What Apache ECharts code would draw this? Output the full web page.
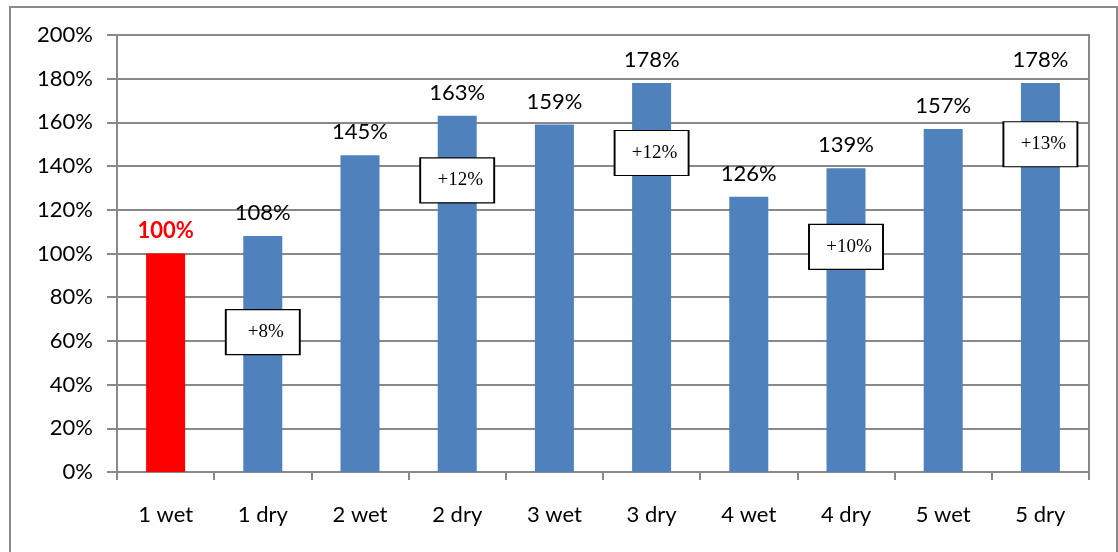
<!DOCTYPE html>
<html>
<head>
<meta charset="utf-8">
<script src="https://cdn.jsdelivr.net/npm/echarts@6/dist/echarts.min.js"></script>
<style>
  html, body { margin: 0; padding: 0; background: #fff; }
  #chart { width: 1118px; height: 552px; }
</style>
</head>
<body>
<div id="chart"></div>
<script>
// Categories and relative values (percent of the "1 wet" baseline)
const categories = ['1 wet', '1 dry', '2 wet', '2 dry', '3 wet', '3 dry', '4 wet', '4 dry', '5 wet', '5 dry'];
const values = [100, 108, 145, 163, 159, 178, 126, 139, 157, 178];

// Wet -> dry gain callouts: which category, where the box sits (in %), and its text
const gainCategories = ['1 dry', '2 dry', '3 dry', '4 dry', '5 dry'];
const gainAnchors = [64, 133.5, 146, 103, 150];
const gainLabels = ['+8%', '+12%', '+12%', '+10%', '+13%'];

const yTicks = [0, 20, 40, 60, 80, 100, 120, 140, 160, 180, 200];

const GRID_GRAY = '#898989';
const BAR_BLUE = '#4F81BD';
const BASE_RED = '#FF0000';
const FONT = 'Lato, "Open Sans", sans-serif';
const FONT_SIZE = 22;

const barData = values.map((v, i) => {
  const isBase = i === 0;
  return {
    value: v,
    itemStyle: { color: isBase ? BASE_RED : BAR_BLUE },
    label: isBase
      ? { color: BASE_RED, fontWeight: 'bold' }
      : { color: '#000', fontWeight: 'normal' }
  };
});

const gainData = gainCategories.map((c, i) => ({
  value: [c, gainAnchors[i]],
  label: { formatter: gainLabels[i] }
}));

const chart = echarts.init(document.getElementById('chart'), null, { renderer: 'canvas' });

chart.setOption({
  animation: false,
  backgroundColor: '#fff',
  textStyle: { fontFamily: FONT },
  graphic: [{
    type: 'rect',
    shape: { x: 10, y: 7, width: 1107, height: 560 },
    style: { fill: 'none', stroke: '#8a8a8a', lineWidth: 2 },
    silent: true,
    z: -10
  }],
  grid: {
    left: 117, right: 29, top: 35, bottom: 80,
    show: true, borderColor: GRID_GRAY, borderWidth: 2, backgroundColor: 'transparent'
  },
  xAxis: {
    type: 'category',
    data: categories,
    boundaryGap: true,
    axisLine: { show: true, lineStyle: { color: GRID_GRAY, width: 2 } },
    axisTick: { show: true, length: 8, alignWithLabel: false, lineStyle: { color: GRID_GRAY, width: 2 } },
    axisLabel: { color: '#000', fontSize: FONT_SIZE, fontFamily: FONT, margin: 32 },
    splitLine: { show: false }
  },
  yAxis: {
    type: 'value',
    min: yTicks[0],
    max: yTicks[yTicks.length - 1],
    interval: yTicks[1] - yTicks[0],
    axisLine: { show: true, lineStyle: { color: GRID_GRAY, width: 2 } },
    axisTick: { show: true, length: 10, lineStyle: { color: GRID_GRAY, width: 2 } },
    axisLabel: { color: '#000', fontSize: FONT_SIZE, fontFamily: FONT, margin: 24, formatter: '{value}%' },
    splitLine: { show: true, lineStyle: { color: GRID_GRAY, width: 2 } }
  },
  series: [
    {
      type: 'bar',
      data: barData,
      barWidth: 39,
      z: 2,
      label: {
        show: true,
        position: 'top',
        distance: 12,
        fontSize: FONT_SIZE,
        fontFamily: FONT,
        formatter: p => p.value + '%'
      }
    },
    {
      type: 'scatter',
      data: gainData,
      symbol: 'rect',
      symbolSize: [74, 45],
      z: 5,
      itemStyle: { color: '#fff', borderColor: '#000', borderWidth: 1.5, opacity: 1 },
      label: {
        show: true,
        position: 'inside',
        offset: [3, 0],
        color: '#000',
        fontSize: 19,
        fontFamily: '"Liberation Serif", "DejaVu Serif", serif'
      }
    }
  ]
});
</script>
</body>
</html>
